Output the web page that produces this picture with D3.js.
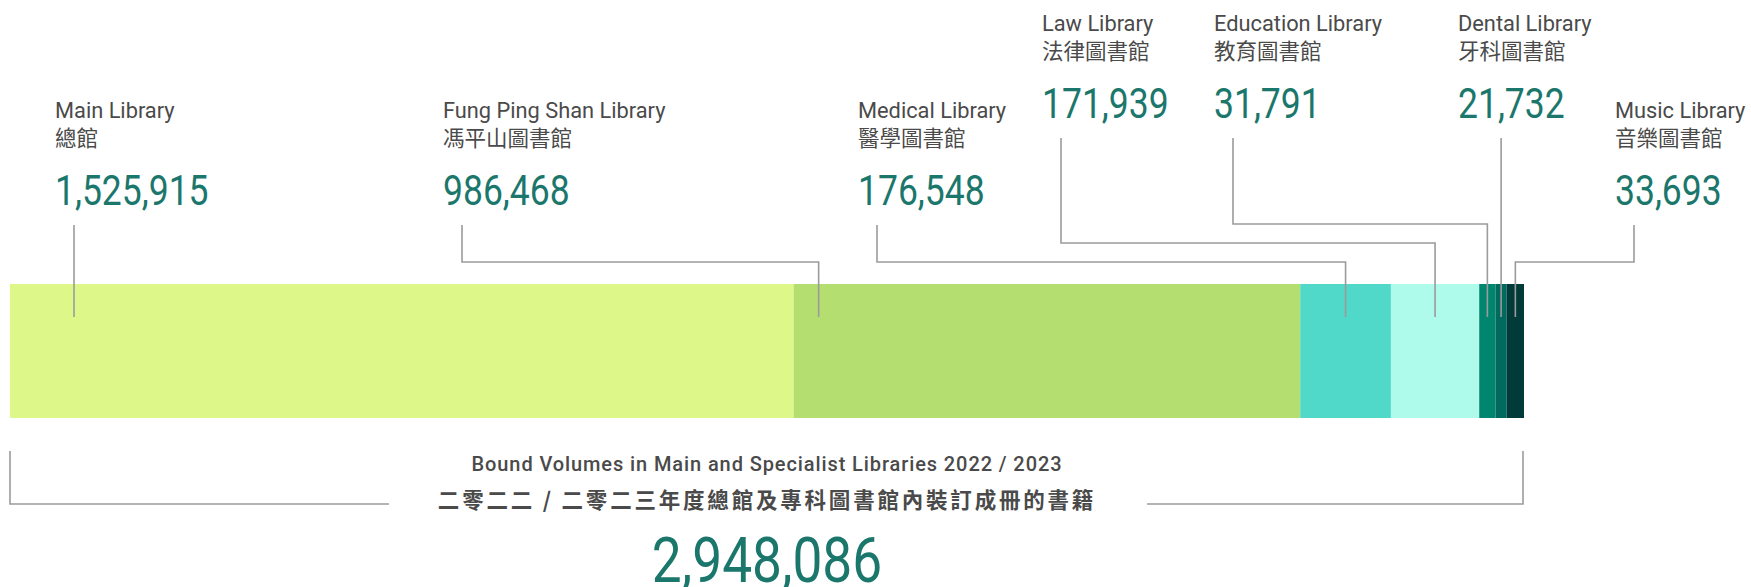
<!DOCTYPE html>
<html>
<head>
<meta charset="utf-8">
<script src="https://cdn.jsdelivr.net/npm/d3@7"></script>
<style>
  body { margin: 0; background: #fff; }
  svg { display: block; }
</style>
</head>
<body>
<div class="graph"></div>
<script>
//Library names and the bound volumes of each one (2022 / 2023)
const namesEn = ["Main Library", "Fung Ping Shan Library", "Medical Library", "Law Library",
                 "Education Library", "Dental Library", "Music Library"];
const namesZh = ["總館", "馮平山圖書館", "醫學圖書館", "法律圖書館", "教育圖書館", "牙科圖書館", "音樂圖書館"];
const volumes = [1525915, 986468, 176548, 171939, 31791, 21732, 33693];
const colours = ["#ddf889", "#b4de70", "#50d8c8", "#aefbeb", "#00856f", "#006a5f", "#003b39"];

const titleEn = "Bound Volumes in Main and Specialist Libraries 2022 / 2023";
const titleZh = "二零二二 / 二零二三年度總館及專科圖書館內裝訂成冊的書籍";

//Where each label sits: its left edge, its row (0 = top, 1 = lower) and the elbow of its leader line
const labelX = [55, 443, 858, 1042, 1214, 1458, 1615];
const labelRow = [1, 1, 1, 0, 0, 0, 1];
const elbowY = [null, 262, 262, 243, 224, null, 262];

const WIDTH = 1751,
      HEIGHT = 587,
      BAR_LEFT = 10,
      BAR_RIGHT = 1524,
      BAR_TOP = 284,
      BAR_H = 134;

const TEAL = "#1b776c",
      GREY_TEXT = "#4a4a4a",
      LINE = "#9b9b9b",
      NUM_FONT = "Roboto, sans-serif",
      NARROW = 0.845; // the numbers use a condensed face

const total = d3.sum(volumes);
const fmt = d3.format(",");

//Stack the libraries one after another along the bar
const data = volumes.map((v, i) => {
    const start = d3.sum(volumes.slice(0, i));
    return { en: namesEn[i], zh: namesZh[i], value: v, start: start, end: start + v, colour: colours[i], i: i };
});

const xScale = d3.scaleLinear().domain([0, total]).range([BAR_LEFT, BAR_RIGHT]);

const svg = d3.select(".graph")
    .append("svg")
    .attr("width", WIDTH)
    .attr("height", HEIGHT);

svg.append("rect").attr("width", WIDTH).attr("height", HEIGHT).attr("fill", "#fff");

//The stacked bar
svg.selectAll(".seg")
    .data(data)
    .enter()
    .append("rect")
    .attr("class", "seg")
    .attr("x", d => xScale(d.start))
    .attr("y", BAR_TOP)
    .attr("width", d => xScale(d.end) - xScale(d.start))
    .attr("height", BAR_H)
    .attr("fill", d => d.colour);

//Leader lines from the labels into the bar
function anchorX(d) {
    if (d.i === 0) return labelX[0] + 19;
    if (d.i === 1) return xScale(d.start) + 25;
    return (xScale(d.start) + xScale(d.end)) / 2;
}

svg.selectAll(".leader")
    .data(data)
    .enter()
    .append("path")
    .attr("class", "leader")
    .attr("fill", "none")
    .attr("stroke", LINE)
    .attr("stroke-width", 1.6)
    .attr("d", d => {
        const top = labelRow[d.i] === 0 ? 138 : 225;
        const ax = anchorX(d);
        const bottom = BAR_TOP + 33;
        if (elbowY[d.i] === null) return `M${ax},${top}V${bottom}`;
        const lx = labelX[d.i] + 19;
        return `M${lx},${top}V${elbowY[d.i]}H${ax}V${bottom}`;
    });

//Labels: english name, chinese name, number
const labels = svg.selectAll(".label")
    .data(data)
    .enter()
    .append("g")
    .attr("class", "label")
    .attr("transform", d => `translate(${labelX[d.i]}, ${labelRow[d.i] === 0 ? 0 : 87})`);

labels.append("text")
    .attr("y", 31)
    .attr("font-family", "Roboto, sans-serif")
    .attr("font-size", 21.8)
    .attr("fill", GREY_TEXT)
    .text(d => d.en);

labels.append("text")
    .attr("y", 59)
    .attr("font-family", "'Noto Sans CJK TC', sans-serif")
    .attr("font-size", 21.5)
    .attr("fill", GREY_TEXT)
    .text(d => d.zh);

labels.append("text")
    .attr("transform", `translate(0, 118) scale(${NARROW}, 1)`)
    .attr("font-family", NUM_FONT)
    .attr("font-size", 42)
    .attr("fill", TEAL)
    .text(d => fmt(d.value));

//Bracket under the bar with the title and the total
const midX = (BAR_LEFT + BAR_RIGHT) / 2;

svg.append("path")
    .attr("fill", "none")
    .attr("stroke", LINE)
    .attr("stroke-width", 1.6)
    .attr("d", `M${BAR_LEFT},451V504H389`);

svg.append("path")
    .attr("fill", "none")
    .attr("stroke", LINE)
    .attr("stroke-width", 1.6)
    .attr("d", `M1147,504H${BAR_RIGHT - 1}V451`);

svg.append("text")
    .attr("x", midX)
    .attr("y", 471)
    .attr("text-anchor", "middle")
    .attr("font-family", "Roboto, sans-serif")
    .attr("font-weight", 500)
    .attr("font-size", 20)
    .attr("letter-spacing", 0.9)
    .attr("fill", GREY_TEXT)
    .text(titleEn);

svg.append("text")
    .attr("x", midX)
    .attr("y", 508)
    .attr("text-anchor", "middle")
    .attr("font-family", "'Noto Sans CJK TC', sans-serif")
    .attr("font-weight", 700)
    .attr("font-size", 21.5)
    .attr("letter-spacing", 2.8)
    .attr("fill", GREY_TEXT)
    .text(titleZh);

svg.append("text")
    .attr("transform", `translate(${midX}, 582) scale(${NARROW}, 1)`)
    .attr("text-anchor", "middle")
    .attr("font-family", NUM_FONT)
    .attr("font-size", 63)
    .attr("fill", TEAL)
    .text(fmt(total));
</script>
</body>
</html>
